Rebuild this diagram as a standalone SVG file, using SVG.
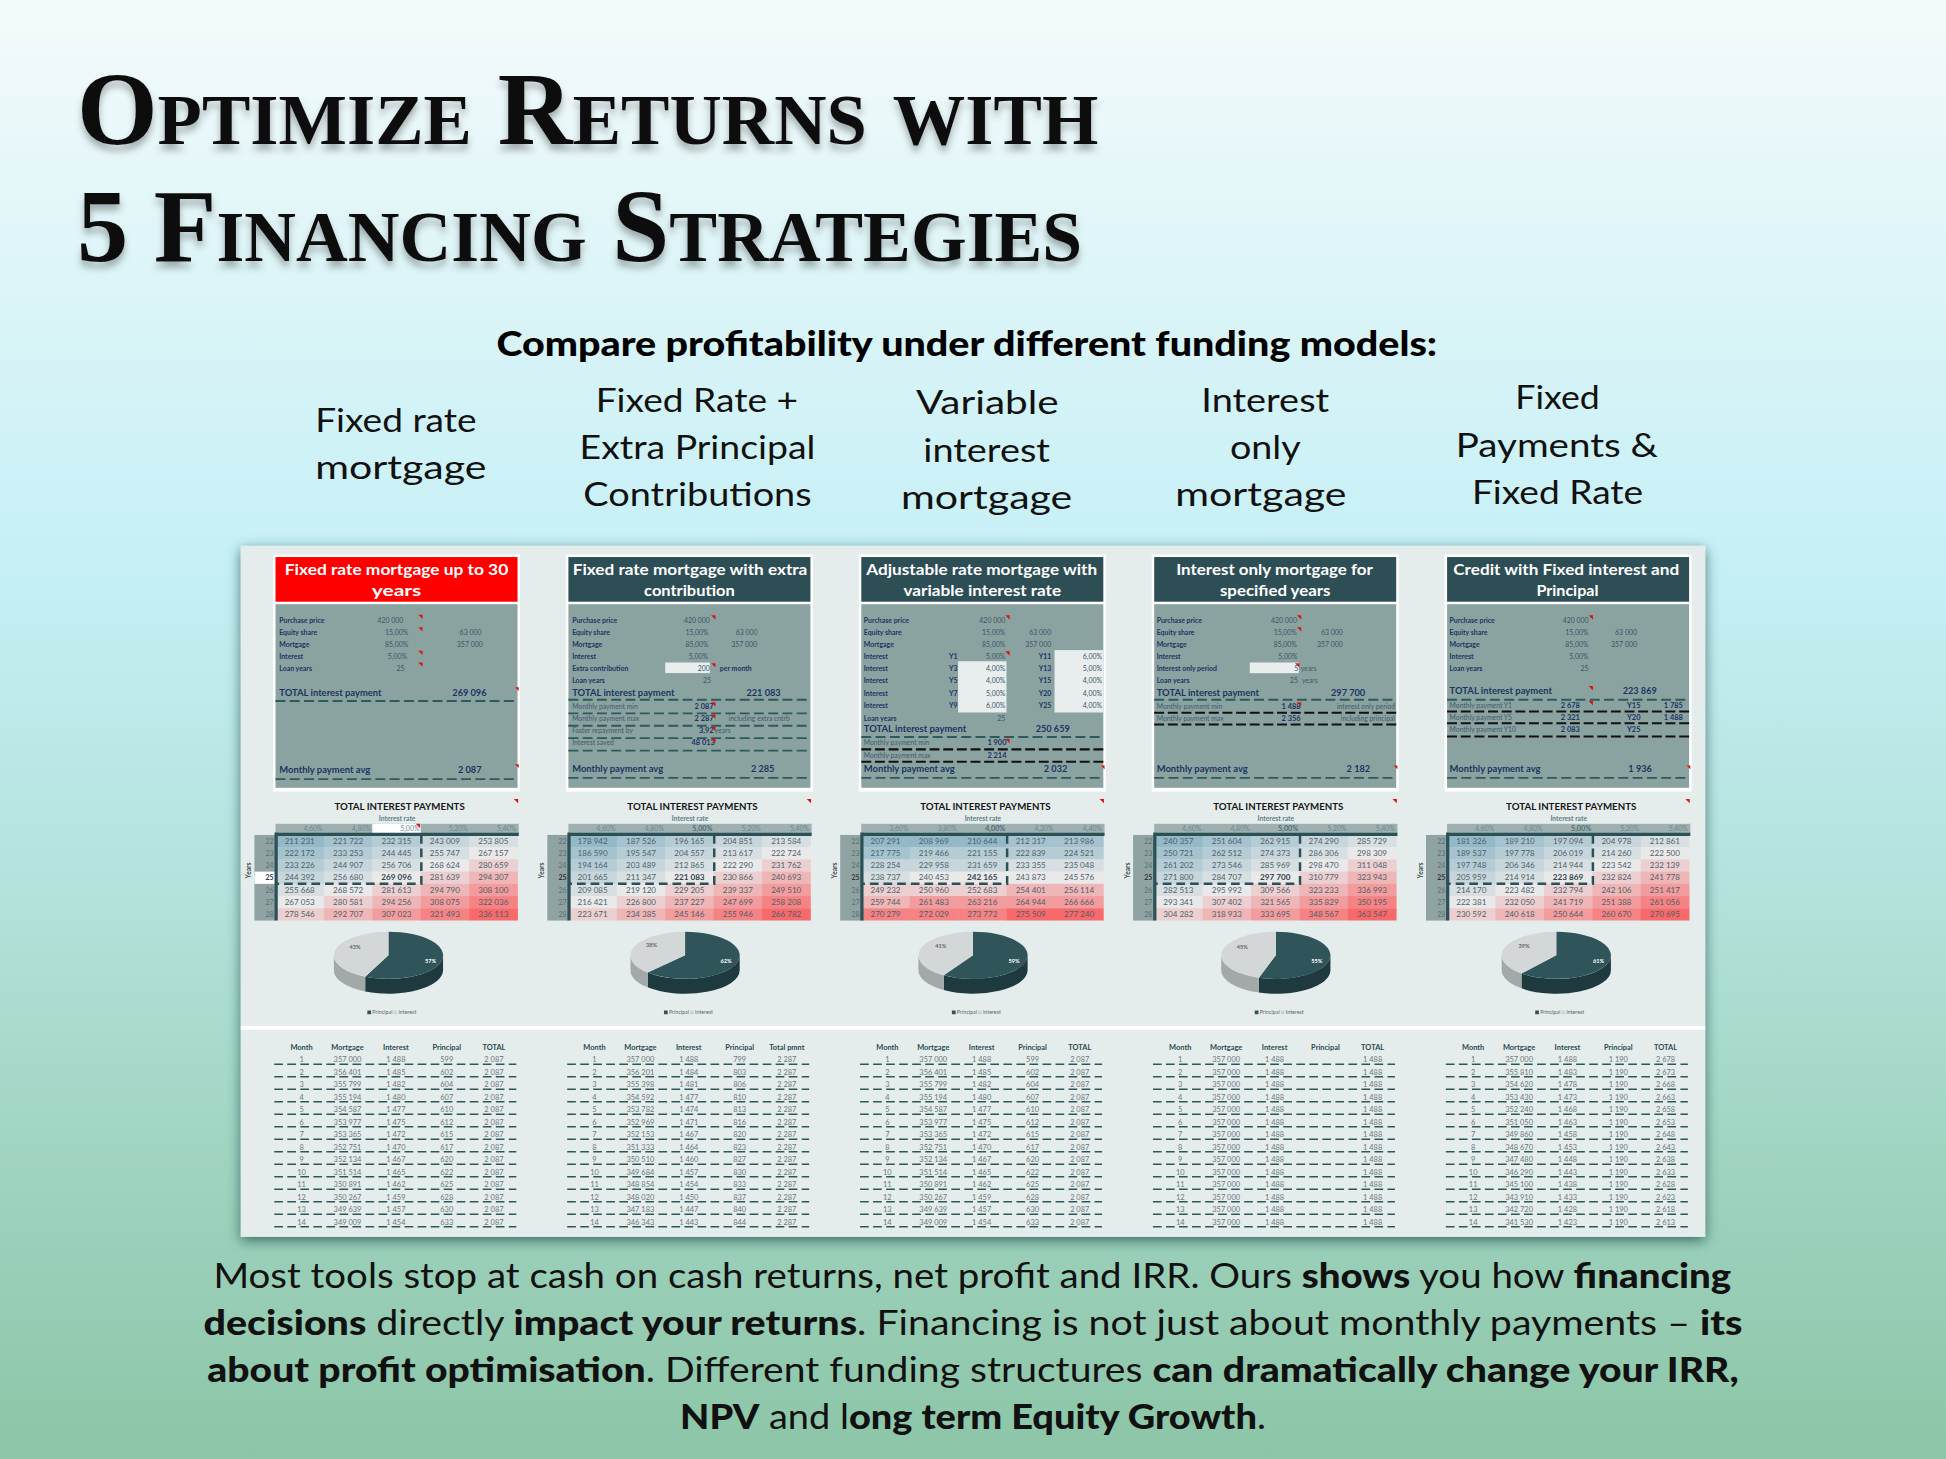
<svg xmlns="http://www.w3.org/2000/svg" xmlns:xlink="http://www.w3.org/1999/xlink" width="1946" height="1459" viewBox="0 0 1946 1459">
<defs>
<linearGradient id="bg" x1="0" y1="0" x2="0" y2="1">
<stop offset="0" stop-color="#f4fafb"/>
<stop offset="0.22" stop-color="#d9f4f7"/>
<stop offset="0.38" stop-color="#c6f0f6"/>
<stop offset="0.6" stop-color="#b4e3dd"/>
<stop offset="0.82" stop-color="#9dd2bd"/>
<stop offset="1" stop-color="#8cc5a7"/>
</linearGradient>
<filter id="psh" x="-5%" y="-5%" width="110%" height="115%"><feDropShadow dx="0" dy="3" stdDeviation="5" flood-color="#1f4a4a" flood-opacity="0.75"/></filter>
<filter id="tsh" x="-5%" y="-20%" width="110%" height="150%"><feDropShadow dx="0" dy="5" stdDeviation="3" flood-color="#000" flood-opacity="0.3"/></filter>
<style>
.ttl{font-family:"Liberation Serif","DejaVu Serif",serif;font-weight:700;font-variant:small-caps;font-size:83px;fill:#111}
.sub{font-family:Lato,"Open Sans",sans-serif;font-weight:900;font-size:27px;fill:#000}
.col{font-family:Lato,"Open Sans",sans-serif;font-weight:400;font-size:27px;fill:#111;text-anchor:middle}
.para{font-family:Lato,"Open Sans",sans-serif;font-weight:400;font-size:28px;fill:#111;text-anchor:middle}
.b{font-weight:900}
.hd{font-family:Lato,"Open Sans",sans-serif;font-weight:700;font-size:12px;fill:#fff;text-anchor:middle}
.body{fill:#8aa3a1}
.lb{font-family:Lato,sans-serif;font-weight:700;font-size:5.6px;fill:#1d3461}
.vl{font-family:Lato,sans-serif;font-weight:400;font-size:5.6px;fill:#3f5366;text-anchor:end}
.tt{font-family:Lato,sans-serif;font-weight:700;font-size:7.6px;fill:#1d3461}
.tv{font-family:Lato,sans-serif;font-weight:700;font-size:7.4px;fill:#1d3461;text-anchor:end}
.sm{font-family:Lato,sans-serif;font-weight:400;font-size:5.5px;fill:#44586a}
.bv{font-family:Lato,sans-serif;font-weight:700;font-size:6px;fill:#1d3461;text-anchor:end}
.bs{font-family:Lato,sans-serif;font-weight:700;font-size:6px;fill:#1d3461}
.dt{stroke:#2d5a5b;stroke-width:1.5;stroke-dasharray:8 3.5;fill:none}
.dk{stroke:#111;stroke-width:1.7;stroke-dasharray:8 3;fill:none}
.rm{fill:#e01010}
.wb{fill:#e8eeee}
.c0{fill:#93b9c7}.c1{fill:#a4c3ce}.c2{fill:#b5ccd5}.c3{fill:#c7d6dc}.c4{fill:#d8dfe3}.c5{fill:#e9e9ea}
.c6{fill:#eccfd1}.c7{fill:#efb6b7}.c8{fill:#f29c9e}.c9{fill:#f58384}.c10{fill:#f8696b}
.hn{font-family:Lato,sans-serif;font-weight:400;font-size:6.5px;fill:#4e5f68;text-anchor:middle}
.hb{font-family:Lato,sans-serif;font-weight:700;font-size:6.6px;fill:#33454d;text-anchor:middle}
.hr{font-family:Lato,sans-serif;font-weight:400;font-size:5.6px;fill:#6c8a8f;text-anchor:end}
.hrb{font-family:Lato,sans-serif;font-weight:700;font-size:5.8px;fill:#4d6d73;text-anchor:end}
.ht{font-family:Lato,sans-serif;font-weight:700;font-size:7.5px;fill:#161616;text-anchor:middle}
.hi{font-family:Lato,sans-serif;font-weight:700;font-size:5.4px;fill:#5f7f86;text-anchor:middle}
.yl{font-family:Lato,sans-serif;font-weight:400;font-size:5.6px;fill:#5c6f73;text-anchor:end}
.yt{font-family:Lato,sans-serif;font-weight:700;font-size:5.4px;fill:#3a4a50;text-anchor:middle}
.pp{fill:#2f555b}.pps{fill:#1e3a3f}.pi{fill:#d4d7d7}.pis{fill:#a3a8a8}
.pl{font-family:Lato,sans-serif;font-weight:700;font-size:4.5px;fill:#666;text-anchor:middle}
.plw{font-family:Lato,sans-serif;font-weight:700;font-size:4.5px;fill:#fff;text-anchor:middle}
.lg{font-family:Lato,sans-serif;font-weight:400;font-size:4.3px;fill:#666}
.bh{font-family:Lato,sans-serif;font-weight:700;font-size:6px;fill:#2c4a51;text-anchor:middle}
.bn{font-family:Lato,sans-serif;font-weight:400;font-size:6px;fill:#6d777b;text-anchor:middle}
.bl{stroke:#2c5757;stroke-width:1.3;stroke-dasharray:7 3.5;fill:none}
</style>
<g id="hmA">
<rect class="c0" x="0" y="673" width="39.3" height="10.1"/><rect class="c1" x="39" y="673" width="39.3" height="10.1"/><rect class="c2" x="78" y="673" width="39.3" height="10.1"/><rect class="c3" x="117" y="673" width="39.3" height="10.1"/><rect class="c4" x="156" y="673" width="39.3" height="10.1"/>
<rect class="c1" x="0" y="682.85" width="39.3" height="10.1"/><rect class="c2" x="39" y="682.85" width="39.3" height="10.1"/><rect class="c3" x="78" y="682.85" width="39.3" height="10.1"/><rect class="c4" x="117" y="682.85" width="39.3" height="10.1"/><rect class="c5" x="156" y="682.85" width="39.3" height="10.1"/>
<rect class="c2" x="0" y="692.7" width="39.3" height="10.1"/><rect class="c3" x="39" y="692.7" width="39.3" height="10.1"/><rect class="c4" x="78" y="692.7" width="39.3" height="10.1"/><rect class="c5" x="117" y="692.7" width="39.3" height="10.1"/><rect class="c6" x="156" y="692.7" width="39.3" height="10.1"/>
<rect class="c3" x="0" y="702.55" width="39.3" height="10.1"/><rect class="c4" x="39" y="702.55" width="39.3" height="10.1"/><rect class="c5" x="78" y="702.55" width="39.3" height="10.1"/><rect class="c6" x="117" y="702.55" width="39.3" height="10.1"/><rect class="c7" x="156" y="702.55" width="39.3" height="10.1"/>
<rect class="c4" x="0" y="712.4" width="39.3" height="10.1"/><rect class="c5" x="39" y="712.4" width="39.3" height="10.1"/><rect class="c6" x="78" y="712.4" width="39.3" height="10.1"/><rect class="c7" x="117" y="712.4" width="39.3" height="10.1"/><rect class="c8" x="156" y="712.4" width="39.3" height="10.1"/>
<rect class="c5" x="0" y="722.25" width="39.3" height="10.1"/><rect class="c6" x="39" y="722.25" width="39.3" height="10.1"/><rect class="c7" x="78" y="722.25" width="39.3" height="10.1"/><rect class="c8" x="117" y="722.25" width="39.3" height="10.1"/><rect class="c9" x="156" y="722.25" width="39.3" height="10.1"/>
<rect class="c6" x="0" y="732.1" width="39.3" height="9.85"/><rect class="c7" x="39" y="732.1" width="39.3" height="9.85"/><rect class="c8" x="78" y="732.1" width="39.3" height="9.85"/><rect class="c9" x="117" y="732.1" width="39.3" height="9.85"/><rect class="c10" x="156" y="732.1" width="39.3" height="9.85"/>
</g>
<g id="hmB">
<rect class="c0" x="0" y="673" width="39.3" height="10.1"/><rect class="c0" x="39" y="673" width="39.3" height="10.1"/><rect class="c0" x="78" y="673" width="39.3" height="10.1"/><rect class="c1" x="117" y="673" width="39.3" height="10.1"/><rect class="c1" x="156" y="673" width="39.3" height="10.1"/>
<rect class="c1" x="0" y="682.85" width="39.3" height="10.1"/><rect class="c2" x="39" y="682.85" width="39.3" height="10.1"/><rect class="c2" x="78" y="682.85" width="39.3" height="10.1"/><rect class="c2" x="117" y="682.85" width="39.3" height="10.1"/><rect class="c2" x="156" y="682.85" width="39.3" height="10.1"/>
<rect class="c3" x="0" y="692.7" width="39.3" height="10.1"/><rect class="c3" x="39" y="692.7" width="39.3" height="10.1"/><rect class="c3" x="78" y="692.7" width="39.3" height="10.1"/><rect class="c4" x="117" y="692.7" width="39.3" height="10.1"/><rect class="c4" x="156" y="692.7" width="39.3" height="10.1"/>
<rect class="c4" x="0" y="702.55" width="39.3" height="10.1"/><rect class="c5" x="39" y="702.55" width="39.3" height="10.1"/><rect class="c5" x="78" y="702.55" width="39.3" height="10.1"/><rect class="c5" x="117" y="702.55" width="39.3" height="10.1"/><rect class="c5" x="156" y="702.55" width="39.3" height="10.1"/>
<rect class="c6" x="0" y="712.4" width="39.3" height="10.1"/><rect class="c6" x="39" y="712.4" width="39.3" height="10.1"/><rect class="c6" x="78" y="712.4" width="39.3" height="10.1"/><rect class="c7" x="117" y="712.4" width="39.3" height="10.1"/><rect class="c7" x="156" y="712.4" width="39.3" height="10.1"/>
<rect class="c7" x="0" y="722.25" width="39.3" height="10.1"/><rect class="c8" x="39" y="722.25" width="39.3" height="10.1"/><rect class="c8" x="78" y="722.25" width="39.3" height="10.1"/><rect class="c8" x="117" y="722.25" width="39.3" height="10.1"/><rect class="c8" x="156" y="722.25" width="39.3" height="10.1"/>
<rect class="c9" x="0" y="732.1" width="39.3" height="9.85"/><rect class="c9" x="39" y="732.1" width="39.3" height="9.85"/><rect class="c9" x="78" y="732.1" width="39.3" height="9.85"/><rect class="c10" x="117" y="732.1" width="39.3" height="9.85"/><rect class="c10" x="156" y="732.1" width="39.3" height="9.85"/>
</g>
<g id="hbase">
<text class="ht" x="100" y="652.5" textLength="105" lengthAdjust="spacingAndGlyphs">TOTAL INTEREST PAYMENTS</text>
<text class="hi" x="98" y="661.5">Interest rate</text>
<rect x="0" y="664" width="196" height="8" fill="#9fb0b0"/>
<rect x="-17" y="673" width="17" height="69" fill="#8fa3a3"/>
<text class="yt" transform="translate(-19.5 701.6) rotate(-90)">Years</text>
<text class="yl"><tspan x="-1.5" y="680.1">22</tspan><tspan x="-1.5" y="689.95">23</tspan><tspan x="-1.5" y="699.8">24</tspan><tspan x="-1.5" y="719.5">26</tspan><tspan x="-1.5" y="729.35">27</tspan><tspan x="-1.5" y="739.2">28</tspan></text>
<text class="yl" x="-1.5" y="709.65" style="font-weight:700;fill:#333">25</text>
<polygon class="rm" points="192,644 195.5,644 195.5,647.5"/>
</g>
<g id="hlines">
<path d="M-0.5 672.5H196M0.5 671V742" stroke="#2b5055" stroke-width="2.6" fill="none"/>
<path d="M117.5 673V712.4H0.5" stroke="#2b5055" stroke-width="2" stroke-dasharray="7 4" fill="none"/>
</g>
<g id="bbase">
<path class="bl" d="M-1 857.8h195M-1 867.88h195M-1 877.96h195M-1 888.04h195M-1 898.12h195M-1 908.2h195M-1 918.28h195M-1 928.36h195M-1 938.44h195M-1 948.52h195M-1 958.6h195M-1 968.68h195M-1 978.76h195M-1 988.84h195"/>
<text class="bh" y="846"><tspan x="21">Month</tspan><tspan x="58">Mortgage</tspan><tspan x="97">Interest</tspan><tspan x="138">Principal</tspan></text>
<text class="bn"><tspan x="21" y="856.3">1</tspan><tspan x="21" y="866.38">2</tspan><tspan x="21" y="876.46">3</tspan><tspan x="21" y="886.54">4</tspan><tspan x="21" y="896.62">5</tspan><tspan x="21" y="906.7">6</tspan><tspan x="21" y="916.78">7</tspan><tspan x="21" y="926.86">8</tspan><tspan x="21" y="936.94">9</tspan><tspan x="21" y="947.02">10</tspan><tspan x="21" y="957.1">11</tspan><tspan x="21" y="967.18">12</tspan><tspan x="21" y="977.26">13</tspan><tspan x="21" y="987.34">14</tspan></text>
</g>
<g id="amort1">
<text class="bn"><tspan x="58" y="856.3">357 000</tspan><tspan x="58" y="866.38">356 401</tspan><tspan x="58" y="876.46">355 799</tspan><tspan x="58" y="886.54">355 194</tspan><tspan x="58" y="896.62">354 587</tspan><tspan x="58" y="906.7">353 977</tspan><tspan x="58" y="916.78">353 365</tspan><tspan x="58" y="926.86">352 751</tspan><tspan x="58" y="936.94">352 134</tspan><tspan x="58" y="947.02">351 514</tspan><tspan x="58" y="957.1">350 891</tspan><tspan x="58" y="967.18">350 267</tspan><tspan x="58" y="977.26">349 639</tspan><tspan x="58" y="987.34">349 009</tspan></text>
<text class="bn"><tspan x="97" y="856.3">1 488</tspan><tspan x="97" y="866.38">1 485</tspan><tspan x="97" y="876.46">1 482</tspan><tspan x="97" y="886.54">1 480</tspan><tspan x="97" y="896.62">1 477</tspan><tspan x="97" y="906.7">1 475</tspan><tspan x="97" y="916.78">1 472</tspan><tspan x="97" y="926.86">1 470</tspan><tspan x="97" y="936.94">1 467</tspan><tspan x="97" y="947.02">1 465</tspan><tspan x="97" y="957.1">1 462</tspan><tspan x="97" y="967.18">1 459</tspan><tspan x="97" y="977.26">1 457</tspan><tspan x="97" y="987.34">1 454</tspan></text>
<text class="bn"><tspan x="138" y="856.3">599</tspan><tspan x="138" y="866.38">602</tspan><tspan x="138" y="876.46">604</tspan><tspan x="138" y="886.54">607</tspan><tspan x="138" y="896.62">610</tspan><tspan x="138" y="906.7">612</tspan><tspan x="138" y="916.78">615</tspan><tspan x="138" y="926.86">617</tspan><tspan x="138" y="936.94">620</tspan><tspan x="138" y="947.02">622</tspan><tspan x="138" y="957.1">625</tspan><tspan x="138" y="967.18">628</tspan><tspan x="138" y="977.26">630</tspan><tspan x="138" y="987.34">633</tspan></text>
<text class="bh" x="176" y="846">TOTAL</text>
<text class="bn"><tspan x="176" y="856.3">2 087</tspan><tspan x="176" y="866.38">2 087</tspan><tspan x="176" y="876.46">2 087</tspan><tspan x="176" y="886.54">2 087</tspan><tspan x="176" y="896.62">2 087</tspan><tspan x="176" y="906.7">2 087</tspan><tspan x="176" y="916.78">2 087</tspan><tspan x="176" y="926.86">2 087</tspan><tspan x="176" y="936.94">2 087</tspan><tspan x="176" y="947.02">2 087</tspan><tspan x="176" y="957.1">2 087</tspan><tspan x="176" y="967.18">2 087</tspan><tspan x="176" y="977.26">2 087</tspan><tspan x="176" y="987.34">2 087</tspan></text>
</g>
</defs>

<rect width="1946" height="1459" fill="url(#bg)"/>

<g transform="scale(1.24107 1.24065)">

<g id="title" filter="url(#tsh)">
<text class="ttl" x="62" y="116" textLength="823" lengthAdjust="spacingAndGlyphs">Optimize Returns with</text>
<text class="ttl" x="62" y="210" textLength="810" lengthAdjust="spacingAndGlyphs">5 Financing Strategies</text>
</g>

<g id="subtitle">
<text class="sub" x="779" y="287" text-anchor="middle" textLength="758" lengthAdjust="spacingAndGlyphs">Compare profitability under different funding models:</text>
</g>

<g id="labels">
<g id="label-1"><text class="col" x="319" y="348" textLength="130" lengthAdjust="spacingAndGlyphs">Fixed rate</text><text class="col" x="323" y="386" textLength="138" lengthAdjust="spacingAndGlyphs">mortgage</text></g>
<g id="label-2"><text class="col" x="561.5" y="332" textLength="163" lengthAdjust="spacingAndGlyphs">Fixed Rate +</text><text class="col" x="562" y="370" textLength="190" lengthAdjust="spacingAndGlyphs">Extra Principal</text><text class="col" x="562" y="408" textLength="184" lengthAdjust="spacingAndGlyphs">Contributions</text></g>
<g id="label-3"><text class="col" x="795.5" y="334" textLength="115" lengthAdjust="spacingAndGlyphs">Variable</text><text class="col" x="795" y="372" textLength="102" lengthAdjust="spacingAndGlyphs">interest</text><text class="col" x="795" y="410" textLength="138" lengthAdjust="spacingAndGlyphs">mortgage</text></g>
<g id="label-4"><text class="col" x="1019.5" y="332" textLength="103" lengthAdjust="spacingAndGlyphs">Interest</text><text class="col" x="1019.5" y="370" textLength="57" lengthAdjust="spacingAndGlyphs">only</text><text class="col" x="1016" y="408" textLength="138" lengthAdjust="spacingAndGlyphs">mortgage</text></g>
<g id="label-5"><text class="col" x="1255" y="330" textLength="68" lengthAdjust="spacingAndGlyphs">Fixed</text><text class="col" x="1254.5" y="368" textLength="163" lengthAdjust="spacingAndGlyphs">Payments &amp;</text><text class="col" x="1255" y="406" textLength="138" lengthAdjust="spacingAndGlyphs">Fixed Rate</text></g>
</g>

<g id="panel">
<rect x="194" y="440" width="1180" height="557" fill="#e4ecec" filter="url(#psh)"/>
<rect x="194" y="827" width="1180" height="3" fill="#ffffff"/>
</g>

<!-- Column 1 -->
<g id="col-1" transform="translate(222 0)">
<g id="card-1">
<rect x="-2" y="447" width="199" height="191" fill="#fff"/>
<rect x="0" y="449" width="195" height="36" fill="#ff0000"/>
<rect class="body" x="0" y="487" width="195" height="148"/>
<text class="hd" x="97.5" y="463.5" textLength="180" lengthAdjust="spacingAndGlyphs">Fixed rate mortgage up to 30</text>
<text class="hd" x="97.5" y="480" textLength="40" lengthAdjust="spacingAndGlyphs">years</text>
<text class="lb" x="3" y="502.4">Purchase price</text><text class="vl" x="103" y="502.4">420 000</text>
<text class="lb" x="3" y="512.1">Equity share</text><text class="vl" x="107" y="512.1">15,00%</text><text class="vl" x="166" y="512.1">63 000</text>
<text class="lb" x="3" y="521.7">Mortgage</text><text class="vl" x="107" y="521.7">85,00%</text><text class="vl" x="167" y="521.7">357 000</text>
<text class="lb" x="3" y="531.1">Interest</text><text class="vl" x="106" y="531.1">5,00%</text>
<text class="lb" x="3" y="540.5">Loan years</text><text class="vl" x="104" y="540.5">25</text>
<text class="tt" x="3" y="561">TOTAL interest payment</text><text class="tv" x="170" y="561">269 096</text>
<path class="dt" d="M0 565H195"/>
<text class="tt" x="3" y="623">Monthly payment avg</text><text class="tv" x="166" y="623">2 087</text>
<path class="dt" d="M0 628H195"/>
<polygon class="rm" points="115,495.5 118.5,495.5 118.5,499"/><polygon class="rm" points="115,505.5 118.5,505.5 118.5,509"/><polygon class="rm" points="115,524.5 118.5,524.5 118.5,528"/><polygon class="rm" points="115,534 118.5,534 118.5,537.5"/><polygon class="rm" points="193,554 196,554 196,557"/><polygon class="rm" points="193,616 196,616 196,619"/>
</g>
<g id="table-1">
<use xlink:href="#hbase"/>
<use xlink:href="#hmA"/>
<rect x="78" y="664" width="39" height="8" fill="#fff"/>
<polygon class="rm" points="113,664 116.5,664 116.5,667.5"/>
<rect x="-17" y="702.55" width="17" height="9.85" fill="#fff"/>
<text class="yl" x="-1.5" y="709.65" style="font-weight:700;fill:#333">25</text>
<text class="hr" y="670"><tspan x="38">4,60%</tspan><tspan x="77">4,80%</tspan><tspan x="116">5,00%</tspan><tspan x="155">5,20%</tspan><tspan x="194">5,40%</tspan></text>
<text class="hn" y="680.1"><tspan x="19.5">211 231</tspan><tspan x="58.5">221 722</tspan><tspan x="97.5">232 315</tspan><tspan x="136.5">243 009</tspan><tspan x="175.5">253 805</tspan></text>
<text class="hn" y="689.95"><tspan x="19.5">222 172</tspan><tspan x="58.5">233 253</tspan><tspan x="97.5">244 445</tspan><tspan x="136.5">255 747</tspan><tspan x="175.5">267 157</tspan></text>
<text class="hn" y="699.8"><tspan x="19.5">233 226</tspan><tspan x="58.5">244 907</tspan><tspan x="97.5">256 706</tspan><tspan x="136.5">268 624</tspan><tspan x="175.5">280 659</tspan></text>
<text class="hn" y="709.65"><tspan x="19.5">244 392</tspan><tspan x="58.5">256 680</tspan><tspan class="hb" x="97.5">269 096</tspan><tspan x="136.5">281 639</tspan><tspan x="175.5">294 307</tspan></text>
<text class="hn" y="719.5"><tspan x="19.5">255 668</tspan><tspan x="58.5">268 572</tspan><tspan x="97.5">281 613</tspan><tspan x="136.5">294 790</tspan><tspan x="175.5">308 100</tspan></text>
<text class="hn" y="729.35"><tspan x="19.5">267 053</tspan><tspan x="58.5">280 581</tspan><tspan x="97.5">294 256</tspan><tspan x="136.5">308 075</tspan><tspan x="175.5">322 036</tspan></text>
<text class="hn" y="739.2"><tspan x="19.5">278 546</tspan><tspan x="58.5">292 707</tspan><tspan x="97.5">307 023</tspan><tspan x="136.5">321 493</tspan><tspan x="175.5">336 113</tspan></text>
<use xlink:href="#hlines"/>
</g>
<g id="pie-1" transform="translate(91 770)">
<path class="pps" d="M44 0A44 19 0 0 1 -18.73 17.19L-18.73 29.19A44 19 0 0 0 44 12Z"/>
<path class="pis" d="M-18.73 17.19A44 19 0 0 1 -44 0L-44 12A44 19 0 0 0 -18.73 29.19Z"/>
<path class="pp" d="M0 0L0 -19A44 19 0 1 1 -18.73 17.19Z"/>
<path class="pi" d="M0 0L-18.73 17.19A44 19 0 0 1 0 -19Z"/>
<text class="pl" x="-27" y="-5">43%</text><text class="plw" x="34" y="6">57%</text>
<rect x="-17" y="44.5" width="3" height="3" fill="#2f555b"/><text class="lg" x="-13" y="47.5">Principal</text>
<rect x="4" y="44.5" width="3" height="3" fill="#cfd3d3"/><text class="lg" x="8" y="47.5">Interest</text>
</g>
<g id="amort-1">
<use xlink:href="#bbase"/>
<use xlink:href="#amort1"/>
</g>
</g>

<!-- Column 2 -->
<g id="col-2" transform="translate(458 0)">
<g id="card-2">
<rect x="-2" y="447" width="199" height="191" fill="#fff"/>
<rect x="0" y="449" width="195" height="36" fill="#2e4e56"/>
<rect class="body" x="0" y="487" width="195" height="148"/>
<text class="hd" x="98" y="463.5" textLength="189" lengthAdjust="spacingAndGlyphs">Fixed rate mortgage with extra</text>
<text class="hd" x="97.5" y="480" textLength="73" lengthAdjust="spacingAndGlyphs">contribution</text>
<rect class="wb" x="78" y="534" width="36" height="8.5"/>
<text class="lb" x="3" y="502.4">Purchase price</text><text class="vl" x="114" y="502.4">420 000</text>
<text class="lb" x="3" y="512.1">Equity share</text><text class="vl" x="113" y="512.1">15,00%</text><text class="vl" x="152.5" y="512.1">63 000</text>
<text class="lb" x="3" y="521.7">Mortgage</text><text class="vl" x="113" y="521.7">85,00%</text><text class="vl" x="152" y="521.7">357 000</text>
<text class="lb" x="3" y="531.1">Interest</text><text class="vl" x="112.5" y="531.1">5,00%</text>
<text class="lb" x="3" y="540.5">Extra contribution</text><text class="vl" x="114" y="540.5">200</text><text class="lb" x="122" y="540.5">per month</text>
<text class="lb" x="3" y="550.5">Loan years</text><text class="vl" x="115" y="550.5">25</text>
<text class="tt" x="3" y="561">TOTAL interest payment</text><text class="tv" x="171" y="561">221 083</text>
<path class="dt" d="M0 564H195"/>
<text class="sm" x="3" y="571.4">Monthly payment min</text><text class="bv" x="117" y="571.4">2 087</text>
<path class="dt" d="M0 575H195"/>
<text class="sm" x="3" y="581.4">Monthly payment max</text><text class="bv" x="117" y="581.4">2 287</text><text class="sm" x="129" y="581.4">including extra cntrb</text>
<path class="dt" d="M0 585H195"/>
<text class="sm" x="3" y="591">Faster repayment by</text><text class="bv" x="117" y="591">3,92</text><text class="sm" x="118" y="591">years</text>
<path class="dt" d="M0 595H195"/>
<text class="sm" x="3" y="600.7">Interest saved</text><text class="bv" x="118" y="600.7">48 013</text>
<path class="dt" d="M0 605H195"/>
<text class="tt" x="3" y="622.5">Monthly payment avg</text><text class="tv" x="166" y="622.5">2 285</text>
<path class="dt" d="M0 627H195"/>
<polygon class="rm" points="115,496 118.5,496 118.5,499.5"/><polygon class="rm" points="115,534.5 118.5,534.5 118.5,538"/><polygon class="rm" points="115,566 118.5,566 118.5,569.5"/><polygon class="rm" points="115,576 118.5,576 118.5,579.5"/><polygon class="rm" points="115,586 118.5,586 118.5,589.5"/><polygon class="rm" points="115,595.5 118.5,595.5 118.5,599"/>
</g>
<g id="table-2">
<use xlink:href="#hbase"/>
<use xlink:href="#hmA"/>
<text class="hr" y="670"><tspan x="38">4,60%</tspan><tspan x="77">4,80%</tspan><tspan class="hrb" x="116">5,00%</tspan><tspan x="155">5,20%</tspan><tspan x="194">5,40%</tspan></text>
<text class="hn" y="680.1"><tspan x="19.5">178 942</tspan><tspan x="58.5">187 526</tspan><tspan x="97.5">196 165</tspan><tspan x="136.5">204 851</tspan><tspan x="175.5">213 584</tspan></text>
<text class="hn" y="689.95"><tspan x="19.5">186 590</tspan><tspan x="58.5">195 547</tspan><tspan x="97.5">204 557</tspan><tspan x="136.5">213 617</tspan><tspan x="175.5">222 724</tspan></text>
<text class="hn" y="699.8"><tspan x="19.5">194 164</tspan><tspan x="58.5">203 489</tspan><tspan x="97.5">212 865</tspan><tspan x="136.5">222 290</tspan><tspan x="175.5">231 762</tspan></text>
<text class="hn" y="709.65"><tspan x="19.5">201 665</tspan><tspan x="58.5">211 347</tspan><tspan class="hb" x="97.5">221 083</tspan><tspan x="136.5">230 866</tspan><tspan x="175.5">240 693</tspan></text>
<text class="hn" y="719.5"><tspan x="19.5">209 085</tspan><tspan x="58.5">219 120</tspan><tspan x="97.5">229 205</tspan><tspan x="136.5">239 337</tspan><tspan x="175.5">249 510</tspan></text>
<text class="hn" y="729.35"><tspan x="19.5">216 421</tspan><tspan x="58.5">226 800</tspan><tspan x="97.5">237 227</tspan><tspan x="136.5">247 699</tspan><tspan x="175.5">258 208</tspan></text>
<text class="hn" y="739.2"><tspan x="19.5">223 671</tspan><tspan x="58.5">234 385</tspan><tspan x="97.5">245 146</tspan><tspan x="136.5">255 946</tspan><tspan x="175.5">266 782</tspan></text>
<use xlink:href="#hlines"/>
</g>
<g id="pie-2" transform="translate(94 770)">
<path class="pps" d="M44 0A44 19 0 0 1 -30.12 13.85L-30.12 25.85A44 19 0 0 0 44 12Z"/>
<path class="pis" d="M-30.12 13.85A44 19 0 0 1 -44 0L-44 12A44 19 0 0 0 -30.12 25.85Z"/>
<path class="pp" d="M0 0L0 -19A44 19 0 1 1 -30.12 13.85Z"/>
<path class="pi" d="M0 0L-30.12 13.85A44 19 0 0 1 0 -19Z"/>
<text class="pl" x="-27" y="-7">38%</text><text class="plw" x="33" y="6">62%</text>
<rect x="-17" y="44.5" width="3" height="3" fill="#2f555b"/><text class="lg" x="-13" y="47.5">Principal</text>
<rect x="4" y="44.5" width="3" height="3" fill="#cfd3d3"/><text class="lg" x="8" y="47.5">Interest</text>
</g>
<g id="amort-2">
<use xlink:href="#bbase"/>
<text class="bh" x="176" y="846">Total pmnt</text>
<text class="bn"><tspan x="58" y="856.3">357 000</tspan><tspan x="58" y="866.38">356 201</tspan><tspan x="58" y="876.46">355 398</tspan><tspan x="58" y="886.54">354 592</tspan><tspan x="58" y="896.62">353 782</tspan><tspan x="58" y="906.7">352 969</tspan><tspan x="58" y="916.78">352 153</tspan><tspan x="58" y="926.86">351 333</tspan><tspan x="58" y="936.94">350 510</tspan><tspan x="58" y="947.02">349 684</tspan><tspan x="58" y="957.1">348 854</tspan><tspan x="58" y="967.18">348 020</tspan><tspan x="58" y="977.26">347 183</tspan><tspan x="58" y="987.34">346 343</tspan></text>
<text class="bn"><tspan x="97" y="856.3">1 488</tspan><tspan x="97" y="866.38">1 484</tspan><tspan x="97" y="876.46">1 481</tspan><tspan x="97" y="886.54">1 477</tspan><tspan x="97" y="896.62">1 474</tspan><tspan x="97" y="906.7">1 471</tspan><tspan x="97" y="916.78">1 467</tspan><tspan x="97" y="926.86">1 464</tspan><tspan x="97" y="936.94">1 460</tspan><tspan x="97" y="947.02">1 457</tspan><tspan x="97" y="957.1">1 454</tspan><tspan x="97" y="967.18">1 450</tspan><tspan x="97" y="977.26">1 447</tspan><tspan x="97" y="987.34">1 443</tspan></text>
<text class="bn"><tspan x="138" y="856.3">799</tspan><tspan x="138" y="866.38">803</tspan><tspan x="138" y="876.46">806</tspan><tspan x="138" y="886.54">810</tspan><tspan x="138" y="896.62">813</tspan><tspan x="138" y="906.7">816</tspan><tspan x="138" y="916.78">820</tspan><tspan x="138" y="926.86">823</tspan><tspan x="138" y="936.94">827</tspan><tspan x="138" y="947.02">830</tspan><tspan x="138" y="957.1">833</tspan><tspan x="138" y="967.18">837</tspan><tspan x="138" y="977.26">840</tspan><tspan x="138" y="987.34">844</tspan></text>
<text class="bn"><tspan x="176" y="856.3">2 287</tspan><tspan x="176" y="866.38">2 287</tspan><tspan x="176" y="876.46">2 287</tspan><tspan x="176" y="886.54">2 287</tspan><tspan x="176" y="896.62">2 287</tspan><tspan x="176" y="906.7">2 287</tspan><tspan x="176" y="916.78">2 287</tspan><tspan x="176" y="926.86">2 287</tspan><tspan x="176" y="936.94">2 287</tspan><tspan x="176" y="947.02">2 287</tspan><tspan x="176" y="957.1">2 287</tspan><tspan x="176" y="967.18">2 287</tspan><tspan x="176" y="977.26">2 287</tspan><tspan x="176" y="987.34">2 287</tspan></text>
</g>
</g>

<!-- Column 3 -->
<g id="col-3" transform="translate(694 0)">
<g id="card-3">
<rect x="-2" y="447" width="199" height="191" fill="#fff"/>
<rect x="0" y="449" width="195" height="36" fill="#2e4e56"/>
<rect class="body" x="0" y="487" width="195" height="148"/>
<text class="hd" x="97" y="463.5" textLength="186" lengthAdjust="spacingAndGlyphs">Adjustable rate mortgage with</text>
<text class="hd" x="97.5" y="480" textLength="127" lengthAdjust="spacingAndGlyphs">variable interest rate</text>
<rect class="wb" x="78" y="533" width="39" height="41.3"/>
<rect class="wb" x="155.7" y="524" width="39.3" height="50.3"/>
<text class="lb" x="2" y="502.4">Purchase price</text><text class="vl" x="116" y="502.4">420 000</text>
<text class="lb" x="2" y="512.1">Equity share</text><text class="vl" x="116" y="512.1">15,00%</text><text class="vl" x="153" y="512.1">63 000</text>
<text class="lb" x="2" y="521.7">Mortgage</text><text class="vl" x="116" y="521.7">85,00%</text><text class="vl" x="153" y="521.7">357 000</text>
<text class="lb" x="2" y="531.1">Interest</text><text class="lb" x="77.6" y="531.1" text-anchor="end">Y1</text><text class="vl" x="116" y="531.1">5,00%</text><text class="lb" x="153" y="531.1" text-anchor="end">Y11</text><text class="vl" x="194" y="531.1">6,00%</text>
<text class="lb" x="2" y="540.5">Interest</text><text class="lb" x="77.6" y="540.5" text-anchor="end">Y3</text><text class="vl" x="116" y="540.5">4,00%</text><text class="lb" x="153" y="540.5" text-anchor="end">Y13</text><text class="vl" x="194" y="540.5">5,00%</text>
<text class="lb" x="2" y="550.5">Interest</text><text class="lb" x="77.6" y="550.5" text-anchor="end">Y5</text><text class="vl" x="116" y="550.5">4,00%</text><text class="lb" x="153" y="550.5" text-anchor="end">Y15</text><text class="vl" x="194" y="550.5">4,00%</text>
<text class="lb" x="2" y="560.7">Interest</text><text class="lb" x="77.6" y="560.7" text-anchor="end">Y7</text><text class="vl" x="116" y="560.7">5,00%</text><text class="lb" x="153" y="560.7" text-anchor="end">Y20</text><text class="vl" x="194" y="560.7">4,00%</text>
<text class="lb" x="2" y="570.6">Interest</text><text class="lb" x="77.6" y="570.6" text-anchor="end">Y9</text><text class="vl" x="116" y="570.6">6,00%</text><text class="lb" x="153" y="570.6" text-anchor="end">Y25</text><text class="vl" x="194" y="570.6">4,00%</text>
<text class="lb" x="2" y="580.8">Loan years</text><text class="vl" x="116" y="580.8">25</text>
<text class="tt" x="2" y="590.2">TOTAL interest payment</text><text class="tv" x="168" y="590.2">250 659</text>
<path class="dt" d="M0 594H195"/>
<text class="sm" x="2" y="600.5">Monthly payment min</text><text class="bv" x="117" y="600.5">1 900</text>
<path class="dk" d="M0 604H195"/>
<text class="sm" x="2" y="611.3">Monthly payment max</text><text class="bv" x="117" y="611.3">2 214</text>
<path class="dk" d="M0 614H195"/>
<text class="tt" x="2" y="622.5">Monthly payment avg</text><text class="tv" x="166" y="622.5">2 032</text>
<path class="dt" d="M0 627H195"/>
<polygon class="rm" points="116,496 119.5,496 119.5,499.5"/><polygon class="rm" points="116,525 119.5,525 119.5,528.5"/><polygon class="rm" points="116,595.5 119.5,595.5 119.5,599"/><polygon class="rm" points="193,617 196,617 196,620"/>
</g>
<g id="table-3">
<use xlink:href="#hbase"/>
<use xlink:href="#hmB"/>
<text class="hr" y="670"><tspan x="38">3,60%</tspan><tspan x="77">3,80%</tspan><tspan class="hrb" x="116">4,00%</tspan><tspan x="155">4,20%</tspan><tspan x="194">4,40%</tspan></text>
<text class="hn" y="680.1"><tspan x="19.5">207 291</tspan><tspan x="58.5">208 969</tspan><tspan x="97.5">210 644</tspan><tspan x="136.5">212 317</tspan><tspan x="175.5">213 986</tspan></text>
<text class="hn" y="689.95"><tspan x="19.5">217 775</tspan><tspan x="58.5">219 466</tspan><tspan x="97.5">221 155</tspan><tspan x="136.5">222 839</tspan><tspan x="175.5">224 521</tspan></text>
<text class="hn" y="699.8"><tspan x="19.5">228 254</tspan><tspan x="58.5">229 958</tspan><tspan x="97.5">231 659</tspan><tspan x="136.5">233 355</tspan><tspan x="175.5">235 048</tspan></text>
<text class="hn" y="709.65"><tspan x="19.5">238 737</tspan><tspan x="58.5">240 453</tspan><tspan class="hb" x="97.5">242 165</tspan><tspan x="136.5">243 873</tspan><tspan x="175.5">245 576</tspan></text>
<text class="hn" y="719.5"><tspan x="19.5">249 232</tspan><tspan x="58.5">250 960</tspan><tspan x="97.5">252 683</tspan><tspan x="136.5">254 401</tspan><tspan x="175.5">256 114</tspan></text>
<text class="hn" y="729.35"><tspan x="19.5">259 744</tspan><tspan x="58.5">261 483</tspan><tspan x="97.5">263 216</tspan><tspan x="136.5">264 944</tspan><tspan x="175.5">266 666</tspan></text>
<text class="hn" y="739.2"><tspan x="19.5">270 279</tspan><tspan x="58.5">272 029</tspan><tspan x="97.5">273 772</tspan><tspan x="136.5">275 509</tspan><tspan x="175.5">277 240</tspan></text>
<use xlink:href="#hlines"/>
</g>
<g id="pie-3" transform="translate(90 770)">
<path class="pps" d="M44 0A44 19 0 0 1 -23.58 16.04L-23.58 28.04A44 19 0 0 0 44 12Z"/>
<path class="pis" d="M-23.58 16.04A44 19 0 0 1 -44 0L-44 12A44 19 0 0 0 -23.58 28.04Z"/>
<path class="pp" d="M0 0L0 -19A44 19 0 1 1 -23.58 16.04Z"/>
<path class="pi" d="M0 0L-23.58 16.04A44 19 0 0 1 0 -19Z"/>
<text class="pl" x="-26" y="-6">41%</text><text class="plw" x="33" y="6">59%</text>
<rect x="-17" y="44.5" width="3" height="3" fill="#2f555b"/><text class="lg" x="-13" y="47.5">Principal</text>
<rect x="4" y="44.5" width="3" height="3" fill="#cfd3d3"/><text class="lg" x="8" y="47.5">Interest</text>
</g>
<g id="amort-3">
<use xlink:href="#bbase"/>
<use xlink:href="#amort1"/>
</g>
</g>

<!-- Column 4 -->
<g id="col-4" transform="translate(930 0)">
<g id="card-4">
<rect x="-2" y="447" width="199" height="191" fill="#fff"/>
<rect x="0" y="449" width="195" height="36" fill="#2e4e56"/>
<rect class="body" x="0" y="487" width="195" height="148"/>
<text class="hd" x="97" y="463.5" textLength="158.5" lengthAdjust="spacingAndGlyphs">Interest only mortgage for</text>
<text class="hd" x="97.5" y="480" textLength="89" lengthAdjust="spacingAndGlyphs">specified years</text>
<rect class="wb" x="77" y="534" width="39.5" height="8.6"/>
<text class="lb" x="2" y="502.4">Purchase price</text><text class="vl" x="115" y="502.4">420 000</text>
<text class="lb" x="2" y="512.1">Equity share</text><text class="vl" x="115" y="512.1">15,00%</text><text class="vl" x="152" y="512.1">63 000</text>
<text class="lb" x="2" y="521.7">Mortgage</text><text class="vl" x="115" y="521.7">85,00%</text><text class="vl" x="152" y="521.7">357 000</text>
<text class="lb" x="2" y="531.1">Interest</text><text class="vl" x="115.5" y="531.1">5,00%</text>
<text class="lb" x="2" y="540.5">Interest only period</text><text class="vl" x="116" y="540.5">5</text><text class="sm" x="118" y="540.5">years</text>
<text class="lb" x="2" y="550.5">Loan years</text><text class="vl" x="116" y="550.5">25</text><text class="sm" x="119" y="550.5">years</text>
<text class="tt" x="2" y="561">TOTAL interest payment</text><text class="tv" x="170" y="561">297 700</text>
<path class="dt" d="M0 564H195"/>
<text class="sm" x="2" y="571.4">Monthly payment min</text><text class="bv" x="118" y="571.4">1 488</text><text class="sm" x="194" y="571.4" text-anchor="end">interest only period</text>
<path class="dk" d="M0 574.5H195"/>
<text class="sm" x="2" y="581.4">Monthly payment max</text><text class="bv" x="118" y="581.4">2 356</text><text class="sm" x="194" y="581.4" text-anchor="end">including principal</text>
<path class="dk" d="M0 584H195"/>
<text class="tt" x="2" y="622.5">Monthly payment avg</text><text class="tv" x="174" y="622.5">2 182</text>
<path class="dt" d="M0 627H195"/>
<polygon class="rm" points="115,496 118.5,496 118.5,499.5"/><polygon class="rm" points="115,505.5 118.5,505.5 118.5,509"/><polygon class="rm" points="113.5,534.5 117,534.5 117,538"/><polygon class="rm" points="115,566 118.5,566 118.5,569.5"/><polygon class="rm" points="193,617 196,617 196,620"/>
</g>
<g id="table-4">
<use xlink:href="#hbase"/>
<use xlink:href="#hmA"/>
<text class="hr" y="670"><tspan x="38">4,60%</tspan><tspan x="77">4,80%</tspan><tspan class="hrb" x="116">5,00%</tspan><tspan x="155">5,20%</tspan><tspan x="194">5,40%</tspan></text>
<text class="hn" y="680.1"><tspan x="19.5">240 357</tspan><tspan x="58.5">251 604</tspan><tspan x="97.5">262 915</tspan><tspan x="136.5">274 290</tspan><tspan x="175.5">285 729</tspan></text>
<text class="hn" y="689.95"><tspan x="19.5">250 721</tspan><tspan x="58.5">262 512</tspan><tspan x="97.5">274 373</tspan><tspan x="136.5">286 306</tspan><tspan x="175.5">298 309</tspan></text>
<text class="hn" y="699.8"><tspan x="19.5">261 202</tspan><tspan x="58.5">273 546</tspan><tspan x="97.5">285 969</tspan><tspan x="136.5">298 470</tspan><tspan x="175.5">311 048</tspan></text>
<text class="hn" y="709.65"><tspan x="19.5">271 800</tspan><tspan x="58.5">284 707</tspan><tspan class="hb" x="97.5">297 700</tspan><tspan x="136.5">310 779</tspan><tspan x="175.5">323 943</tspan></text>
<text class="hn" y="719.5"><tspan x="19.5">282 513</tspan><tspan x="58.5">295 992</tspan><tspan x="97.5">309 566</tspan><tspan x="136.5">323 233</tspan><tspan x="175.5">336 993</tspan></text>
<text class="hn" y="729.35"><tspan x="19.5">293 341</tspan><tspan x="58.5">307 402</tspan><tspan x="97.5">321 565</tspan><tspan x="136.5">335 829</tspan><tspan x="175.5">350 195</tspan></text>
<text class="hn" y="739.2"><tspan x="19.5">304 282</tspan><tspan x="58.5">318 933</tspan><tspan x="97.5">333 695</tspan><tspan x="136.5">348 567</tspan><tspan x="175.5">363 547</tspan></text>
<use xlink:href="#hlines"/>
</g>
<g id="pie-4" transform="translate(98 770)">
<path class="pps" d="M44 0A44 19 0 0 1 -13.6 18.07L-13.6 30.07A44 19 0 0 0 44 12Z"/>
<path class="pis" d="M-13.6 18.07A44 19 0 0 1 -44 0L-44 12A44 19 0 0 0 -13.6 30.07Z"/>
<path class="pp" d="M0 0L0 -19A44 19 0 1 1 -13.6 18.07Z"/>
<path class="pi" d="M0 0L-13.6 18.07A44 19 0 0 1 0 -19Z"/>
<text class="pl" x="-27" y="-5">45%</text><text class="plw" x="33" y="6">55%</text>
<rect x="-17" y="44.5" width="3" height="3" fill="#2f555b"/><text class="lg" x="-13" y="47.5">Principal</text>
<rect x="4" y="44.5" width="3" height="3" fill="#cfd3d3"/><text class="lg" x="8" y="47.5">Interest</text>
</g>
<g id="amort-4">
<use xlink:href="#bbase"/>
<text class="bh" x="176" y="846">TOTAL</text>
<text class="bn"><tspan x="58" y="856.3">357 000</tspan><tspan x="58" y="866.38">357 000</tspan><tspan x="58" y="876.46">357 000</tspan><tspan x="58" y="886.54">357 000</tspan><tspan x="58" y="896.62">357 000</tspan><tspan x="58" y="906.7">357 000</tspan><tspan x="58" y="916.78">357 000</tspan><tspan x="58" y="926.86">357 000</tspan><tspan x="58" y="936.94">357 000</tspan><tspan x="58" y="947.02">357 000</tspan><tspan x="58" y="957.1">357 000</tspan><tspan x="58" y="967.18">357 000</tspan><tspan x="58" y="977.26">357 000</tspan><tspan x="58" y="987.34">357 000</tspan></text>
<text class="bn"><tspan x="97" y="856.3">1 488</tspan><tspan x="97" y="866.38">1 488</tspan><tspan x="97" y="876.46">1 488</tspan><tspan x="97" y="886.54">1 488</tspan><tspan x="97" y="896.62">1 488</tspan><tspan x="97" y="906.7">1 488</tspan><tspan x="97" y="916.78">1 488</tspan><tspan x="97" y="926.86">1 488</tspan><tspan x="97" y="936.94">1 488</tspan><tspan x="97" y="947.02">1 488</tspan><tspan x="97" y="957.1">1 488</tspan><tspan x="97" y="967.18">1 488</tspan><tspan x="97" y="977.26">1 488</tspan><tspan x="97" y="987.34">1 488</tspan></text>
<text class="bn"><tspan x="176" y="856.3">1 488</tspan><tspan x="176" y="866.38">1 488</tspan><tspan x="176" y="876.46">1 488</tspan><tspan x="176" y="886.54">1 488</tspan><tspan x="176" y="896.62">1 488</tspan><tspan x="176" y="906.7">1 488</tspan><tspan x="176" y="916.78">1 488</tspan><tspan x="176" y="926.86">1 488</tspan><tspan x="176" y="936.94">1 488</tspan><tspan x="176" y="947.02">1 488</tspan><tspan x="176" y="957.1">1 488</tspan><tspan x="176" y="967.18">1 488</tspan><tspan x="176" y="977.26">1 488</tspan><tspan x="176" y="987.34">1 488</tspan></text>
</g>
</g>

<!-- Column 5 -->
<g id="col-5" transform="translate(1166 0)">
<g id="card-5">
<rect x="-2" y="447" width="199" height="191" fill="#fff"/>
<rect x="0" y="449" width="195" height="36" fill="#2e4e56"/>
<rect class="body" x="0" y="487" width="195" height="148"/>
<text class="hd" x="96" y="463.5" textLength="182" lengthAdjust="spacingAndGlyphs">Credit with Fixed interest and</text>
<text class="hd" x="97" y="480" textLength="50" lengthAdjust="spacingAndGlyphs">Principal</text>
<text class="lb" x="2" y="502.4">Purchase price</text><text class="vl" x="114" y="502.4">420 000</text>
<text class="lb" x="2" y="512.1">Equity share</text><text class="vl" x="114" y="512.1">15,00%</text><text class="vl" x="153" y="512.1">63 000</text>
<text class="lb" x="2" y="521.7">Mortgage</text><text class="vl" x="114" y="521.7">85,00%</text><text class="vl" x="153" y="521.7">357 000</text>
<text class="lb" x="2" y="531.1">Interest</text><text class="vl" x="114" y="531.1">5,00%</text>
<text class="lb" x="2" y="540.5">Loan years</text><text class="vl" x="114" y="540.5">25</text>
<text class="tt" x="2" y="559.5">TOTAL interest payment</text><text class="tv" x="169" y="559.5">223 869</text>
<path class="dt" d="M0 564H195"/>
<text class="sm" x="2" y="570.6">Monthly payment Y1</text><text class="bv" x="107" y="570.6">2 678</text><text class="bs" x="145" y="570.6">Y15</text><text class="bv" x="190" y="570.6">1 785</text>
<path class="dk" d="M0 573.5H195"/>
<text class="sm" x="2" y="580.6">Monthly payment Y5</text><text class="bv" x="107" y="580.6">2 321</text><text class="bs" x="145" y="580.6">Y20</text><text class="bv" x="190" y="580.6">1 488</text>
<path class="dk" d="M0 583H195"/>
<text class="sm" x="2" y="590.2">Monthly payment Y10</text><text class="bv" x="107" y="590.2">2 083</text><text class="bs" x="145" y="590.2">Y25</text>
<path class="dk" d="M0 593.6H195"/>
<text class="tt" x="2" y="622.5">Monthly payment avg</text><text class="tv" x="165" y="622.5">1 936</text>
<path class="dt" d="M0 627H195"/>
<polygon class="rm" points="114,496 117.5,496 117.5,499.5"/><polygon class="rm" points="114,553 117.5,553 117.5,556.5"/><polygon class="rm" points="114,565 117.5,565 117.5,568.5"/><polygon class="rm" points="193,617 196,617 196,620"/>
</g>
<g id="table-5">
<use xlink:href="#hbase"/>
<use xlink:href="#hmA"/>
<text class="hr" y="670"><tspan x="38">4,60%</tspan><tspan x="77">4,80%</tspan><tspan class="hrb" x="116">5,00%</tspan><tspan x="155">5,20%</tspan><tspan x="194">5,40%</tspan></text>
<text class="hn" y="680.1"><tspan x="19.5">181 326</tspan><tspan x="58.5">189 210</tspan><tspan x="97.5">197 094</tspan><tspan x="136.5">204 978</tspan><tspan x="175.5">212 861</tspan></text>
<text class="hn" y="689.95"><tspan x="19.5">189 537</tspan><tspan x="58.5">197 778</tspan><tspan x="97.5">206 019</tspan><tspan x="136.5">214 260</tspan><tspan x="175.5">222 500</tspan></text>
<text class="hn" y="699.8"><tspan x="19.5">197 748</tspan><tspan x="58.5">206 346</tspan><tspan x="97.5">214 944</tspan><tspan x="136.5">223 542</tspan><tspan x="175.5">232 139</tspan></text>
<text class="hn" y="709.65"><tspan x="19.5">205 959</tspan><tspan x="58.5">214 914</tspan><tspan class="hb" x="97.5">223 869</tspan><tspan x="136.5">232 824</tspan><tspan x="175.5">241 778</tspan></text>
<text class="hn" y="719.5"><tspan x="19.5">214 170</tspan><tspan x="58.5">223 482</tspan><tspan x="97.5">232 794</tspan><tspan x="136.5">242 106</tspan><tspan x="175.5">251 417</tspan></text>
<text class="hn" y="729.35"><tspan x="19.5">222 381</tspan><tspan x="58.5">232 050</tspan><tspan x="97.5">241 719</tspan><tspan x="136.5">251 388</tspan><tspan x="175.5">261 056</tspan></text>
<text class="hn" y="739.2"><tspan x="19.5">230 592</tspan><tspan x="58.5">240 618</tspan><tspan x="97.5">250 644</tspan><tspan x="136.5">260 670</tspan><tspan x="175.5">270 695</tspan></text>
<use xlink:href="#hlines"/>
</g>
<g id="pie-5" transform="translate(88 770)">
<path class="pps" d="M44 0A44 19 0 0 1 -28.05 14.64L-28.05 26.64A44 19 0 0 0 44 12Z"/>
<path class="pis" d="M-28.05 14.64A44 19 0 0 1 -44 0L-44 12A44 19 0 0 0 -28.05 26.64Z"/>
<path class="pp" d="M0 0L0 -19A44 19 0 1 1 -28.05 14.64Z"/>
<path class="pi" d="M0 0L-28.05 14.64A44 19 0 0 1 0 -19Z"/>
<text class="pl" x="-26" y="-6">39%</text><text class="plw" x="34" y="6">61%</text>
<rect x="-17" y="44.5" width="3" height="3" fill="#2f555b"/><text class="lg" x="-13" y="47.5">Principal</text>
<rect x="4" y="44.5" width="3" height="3" fill="#cfd3d3"/><text class="lg" x="8" y="47.5">Interest</text>
</g>
<g id="amort-5">
<use xlink:href="#bbase"/>
<text class="bh" x="176" y="846">TOTAL</text>
<text class="bn"><tspan x="58" y="856.3">357 000</tspan><tspan x="58" y="866.38">355 810</tspan><tspan x="58" y="876.46">354 620</tspan><tspan x="58" y="886.54">353 430</tspan><tspan x="58" y="896.62">352 240</tspan><tspan x="58" y="906.7">351 050</tspan><tspan x="58" y="916.78">349 860</tspan><tspan x="58" y="926.86">348 670</tspan><tspan x="58" y="936.94">347 480</tspan><tspan x="58" y="947.02">346 290</tspan><tspan x="58" y="957.1">345 100</tspan><tspan x="58" y="967.18">343 910</tspan><tspan x="58" y="977.26">342 720</tspan><tspan x="58" y="987.34">341 530</tspan></text>
<text class="bn"><tspan x="97" y="856.3">1 488</tspan><tspan x="97" y="866.38">1 483</tspan><tspan x="97" y="876.46">1 478</tspan><tspan x="97" y="886.54">1 473</tspan><tspan x="97" y="896.62">1 468</tspan><tspan x="97" y="906.7">1 463</tspan><tspan x="97" y="916.78">1 458</tspan><tspan x="97" y="926.86">1 453</tspan><tspan x="97" y="936.94">1 448</tspan><tspan x="97" y="947.02">1 443</tspan><tspan x="97" y="957.1">1 438</tspan><tspan x="97" y="967.18">1 433</tspan><tspan x="97" y="977.26">1 428</tspan><tspan x="97" y="987.34">1 423</tspan></text>
<text class="bn"><tspan x="138" y="856.3">1 190</tspan><tspan x="138" y="866.38">1 190</tspan><tspan x="138" y="876.46">1 190</tspan><tspan x="138" y="886.54">1 190</tspan><tspan x="138" y="896.62">1 190</tspan><tspan x="138" y="906.7">1 190</tspan><tspan x="138" y="916.78">1 190</tspan><tspan x="138" y="926.86">1 190</tspan><tspan x="138" y="936.94">1 190</tspan><tspan x="138" y="947.02">1 190</tspan><tspan x="138" y="957.1">1 190</tspan><tspan x="138" y="967.18">1 190</tspan><tspan x="138" y="977.26">1 190</tspan><tspan x="138" y="987.34">1 190</tspan></text>
<text class="bn"><tspan x="176" y="856.3">2 678</tspan><tspan x="176" y="866.38">2 673</tspan><tspan x="176" y="876.46">2 668</tspan><tspan x="176" y="886.54">2 663</tspan><tspan x="176" y="896.62">2 658</tspan><tspan x="176" y="906.7">2 653</tspan><tspan x="176" y="916.78">2 648</tspan><tspan x="176" y="926.86">2 643</tspan><tspan x="176" y="936.94">2 638</tspan><tspan x="176" y="947.02">2 633</tspan><tspan x="176" y="957.1">2 628</tspan><tspan x="176" y="967.18">2 623</tspan><tspan x="176" y="977.26">2 618</tspan><tspan x="176" y="987.34">2 613</tspan></text>
</g>
</g>

<g id="paragraph">
<text class="para" x="783.5" y="1038" textLength="1223" lengthAdjust="spacingAndGlyphs">Most tools stop at cash on cash returns, net profit and IRR. Ours <tspan class="b">shows</tspan> you how <tspan class="b">financing</tspan></text>
<text class="para" x="784" y="1076" textLength="1240" lengthAdjust="spacingAndGlyphs"><tspan class="b">decisions</tspan> directly <tspan class="b">impact your returns</tspan>. Financing is not just about monthly payments – <tspan class="b">its</tspan></text>
<text class="para" x="784" y="1114" textLength="1234" lengthAdjust="spacingAndGlyphs"><tspan class="b">about profit optimisation</tspan>. Different funding structures <tspan class="b">can dramatically change your IRR,</tspan></text>
<text class="para" x="784" y="1152" textLength="472" lengthAdjust="spacingAndGlyphs"><tspan class="b">NPV</tspan> and l<tspan class="b">ong term Equity Growth</tspan>.</text>
</g>

</g>
</svg>
